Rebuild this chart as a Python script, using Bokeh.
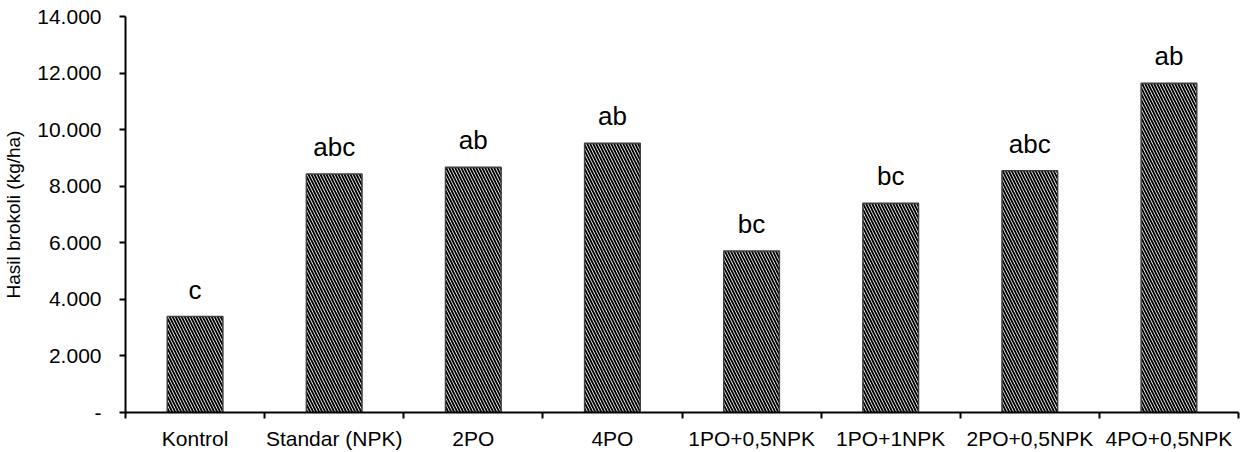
from bokeh.plotting import figure
from bokeh.models import ColumnDataSource, FixedTicker, Range1d
from bokeh.core.properties import value
from bokeh.embed import file_html
from bokeh.resources import INLINE

categories = ["Kontrol", "Standar (NPK)", "2PO", "4PO", "1PO+0,5NPK", "1PO+1NPK", "2PO+0,5NPK", "4PO+0,5NPK"]
hasil = [3390, 8430, 8670, 9520, 5710, 7400, 8550, 11640]
notasi = ["c", "abc", "ab", "ab", "bc", "bc", "abc", "ab"]
y_ticks = [0, 2000, 4000, 6000, 8000, 10000, 12000, 14000]
y_tick_labels = ["-", "2.000", "4.000", "6.000", "8.000", "10.000", "12.000", "14.000"]

FONT = "Liberation Sans"

xs = [i + 0.5 for i in range(len(categories))]
src = ColumnDataSource(dict(x=xs, top=hasil, lab=notasi))

p = figure(width=1242, height=452, output_backend="svg", toolbar_location=None,
           x_range=Range1d(0, len(categories)), y_range=Range1d(0, 14000))
p.min_border_left = 124
p.min_border_top = 16
p.min_border_right = 4
p.min_border_bottom = 39
p.outline_line_color = None
p.xgrid.visible = False
p.ygrid.visible = False

p.vbar(x="x", top="top", bottom=0, width=0.4, source=src,
       fill_color="white", line_color="#404040", line_width=1.5,
       hatch_pattern="left_diagonal_line", hatch_color="black",
       hatch_scale=6, hatch_weight=1.9)

p.text(x="x", y="top", text="lab", source=src, text_align="center",
       text_baseline="alphabetic", y_offset=-27, text_font=value(FONT),
       text_font_size="26px", text_color="black")

# y axis
ya = p.yaxis[0]
ya.ticker = FixedTicker(ticks=y_ticks)
ya.major_label_overrides = {t: l for t, l in zip(y_ticks, y_tick_labels)}
ya.axis_line_width = 2
ya.axis_line_color = "black"
ya.major_tick_line_width = 2
ya.major_tick_in = 0
ya.major_tick_out = 6
ya.minor_tick_line_color = None
ya.major_label_standoff = 18
ya.major_label_text_font = FONT
ya.major_label_text_font_size = "21px"
ya.major_label_text_color = "black"
ya.axis_label = "Hasil brokoli (kg/ha)"
ya.axis_label_text_font = FONT
ya.axis_label_text_font_size = "19px"
ya.axis_label_text_font_style = "normal"
ya.axis_label_text_color = "black"
ya.axis_label_standoff = 10

# x axis
xa = p.xaxis[0]
xa.ticker = FixedTicker(ticks=xs, minor_ticks=list(range(len(categories) + 1)))
xa.major_label_overrides = {x: c for x, c in zip(xs, categories)}
xa.axis_line_width = 2
xa.axis_line_color = "black"
xa.major_tick_line_color = None
xa.minor_tick_line_color = "black"
xa.minor_tick_line_width = 2
xa.minor_tick_in = 0
xa.minor_tick_out = 6
xa.major_label_standoff = 8
xa.major_label_text_font = FONT
xa.major_label_text_font_size = "21px"
xa.major_label_text_color = "black"

open("out.html", "w").write(file_html(p, INLINE))
